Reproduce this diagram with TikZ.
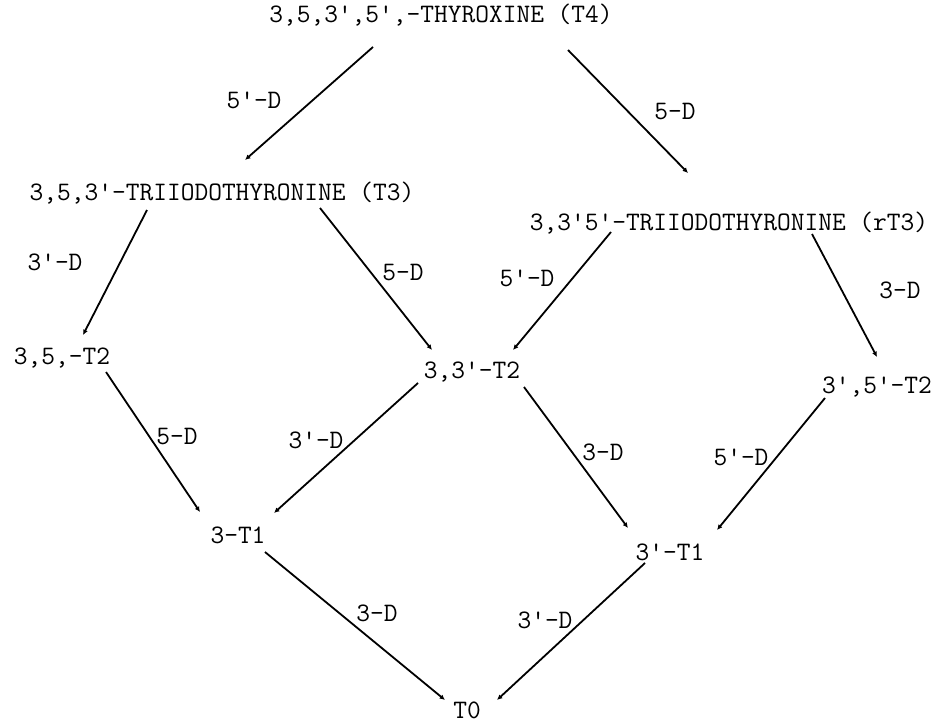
\documentclass[tikz,border=0pt]{standalone}
\usepackage{fontspec}
\usetikzlibrary{arrows.meta}
\tikzset{
cmpd/.style={
  font=\ttfamily\fontsize{20}{24}\selectfont,
  inner sep=0pt
  },
enz/.style={
  cmpd
  }
}

\begin{document}
\begin{tikzpicture}[x=0.75pt,y=-0.75pt,>={Latex[length=4pt,width=3.8pt]},line width=1.35pt]
\useasboundingbox (0,0) rectangle (944,724);

\node[cmpd] at (441,15) (t4) {3,5,3',5',-THYROXINE (T4)};

\node[cmpd] at (222,193) (t3) {3,5,3'-TRIIODOTHYRONINE (T3)};
\node[cmpd] at (729,223) (rt3) {3,3'5'-TRIIODOTHYRONINE (rT3)};

\node[cmpd] at (62,358) (t2a) {3,5,-T2};
\node[cmpd] at (472,372) (t2b) {3,3'-T2};
\node[cmpd] at (877,387) (t2c) {3',5'-T2};

\node[cmpd] at (238,535) (t1a) {3-T1};
\node[cmpd] at (670,552) (t1b) {3'-T1};

\node[cmpd] at (467,710) (t0) {T0};

% deiodinase labels
\node[enz] at (254,100) (d1) {5'-D};
\node[enz] at (675,112) (d2) {5-D};
\node[enz] at (55,262) (d3) {3'-D};
\node[enz] at (403,273) (d4) {5-D};
\node[enz] at (527,278) (d5) {5'-D};
\node[enz] at (900,290) (d6) {3-D};
\node[enz] at (177,437) (d7) {5-D};
\node[enz] at (316,440) (d8) {3'-D};
\node[enz] at (603,452) (d9) {3-D};
\node[enz] at (741,457) (d10) {5'-D};
\node[enz] at (377,613) (d11) {3-D};
\node[enz] at (545,620) (d12) {3'-D};

\begin{scope}[->]
\draw ([shift={(-68,32)}]t4.center) -- ([shift={(23,-33)}]t3.center);
\draw ([shift={(127,35)}]t4.center) -- ([shift={(-41,-50)}]rt3.center);

\draw ([shift={(-75,17)}]t3.center) -- ([shift={(21,-23)}]t2a.center);
\draw ([shift={(98,15)}]t3.center) -- ([shift={(-40,-22)}]t2b.center);
\draw ([shift={(-118,9)}]rt3.center) -- ([shift={(41,-22)}]t2b.center);
\draw ([shift={(83,11)}]rt3.center) -- ([shift={(0,-30)}]t2c.center);

\draw ([shift={(44,14)}]t2a.center) -- ([shift={(-38,-23)}]t1a.center);
\draw ([shift={(-54,11)}]t2b.center) -- ([shift={(36,-22)}]t1a.center);
\draw ([shift={(52,15)}]t2b.center) -- ([shift={(-42,-24)}]t1b.center);
\draw ([shift={(-52,11)}]t2c.center) -- ([shift={(47,-22)}]t1b.center);

\draw ([shift={(27,17)}]t1a.center) -- ([shift={(-22,-10)}]t0.center);
\draw ([shift={(-25,11)}]t1b.center) -- ([shift={(30,-10)}]t0.center);
\end{scope}
\end{tikzpicture}
\end{document}
